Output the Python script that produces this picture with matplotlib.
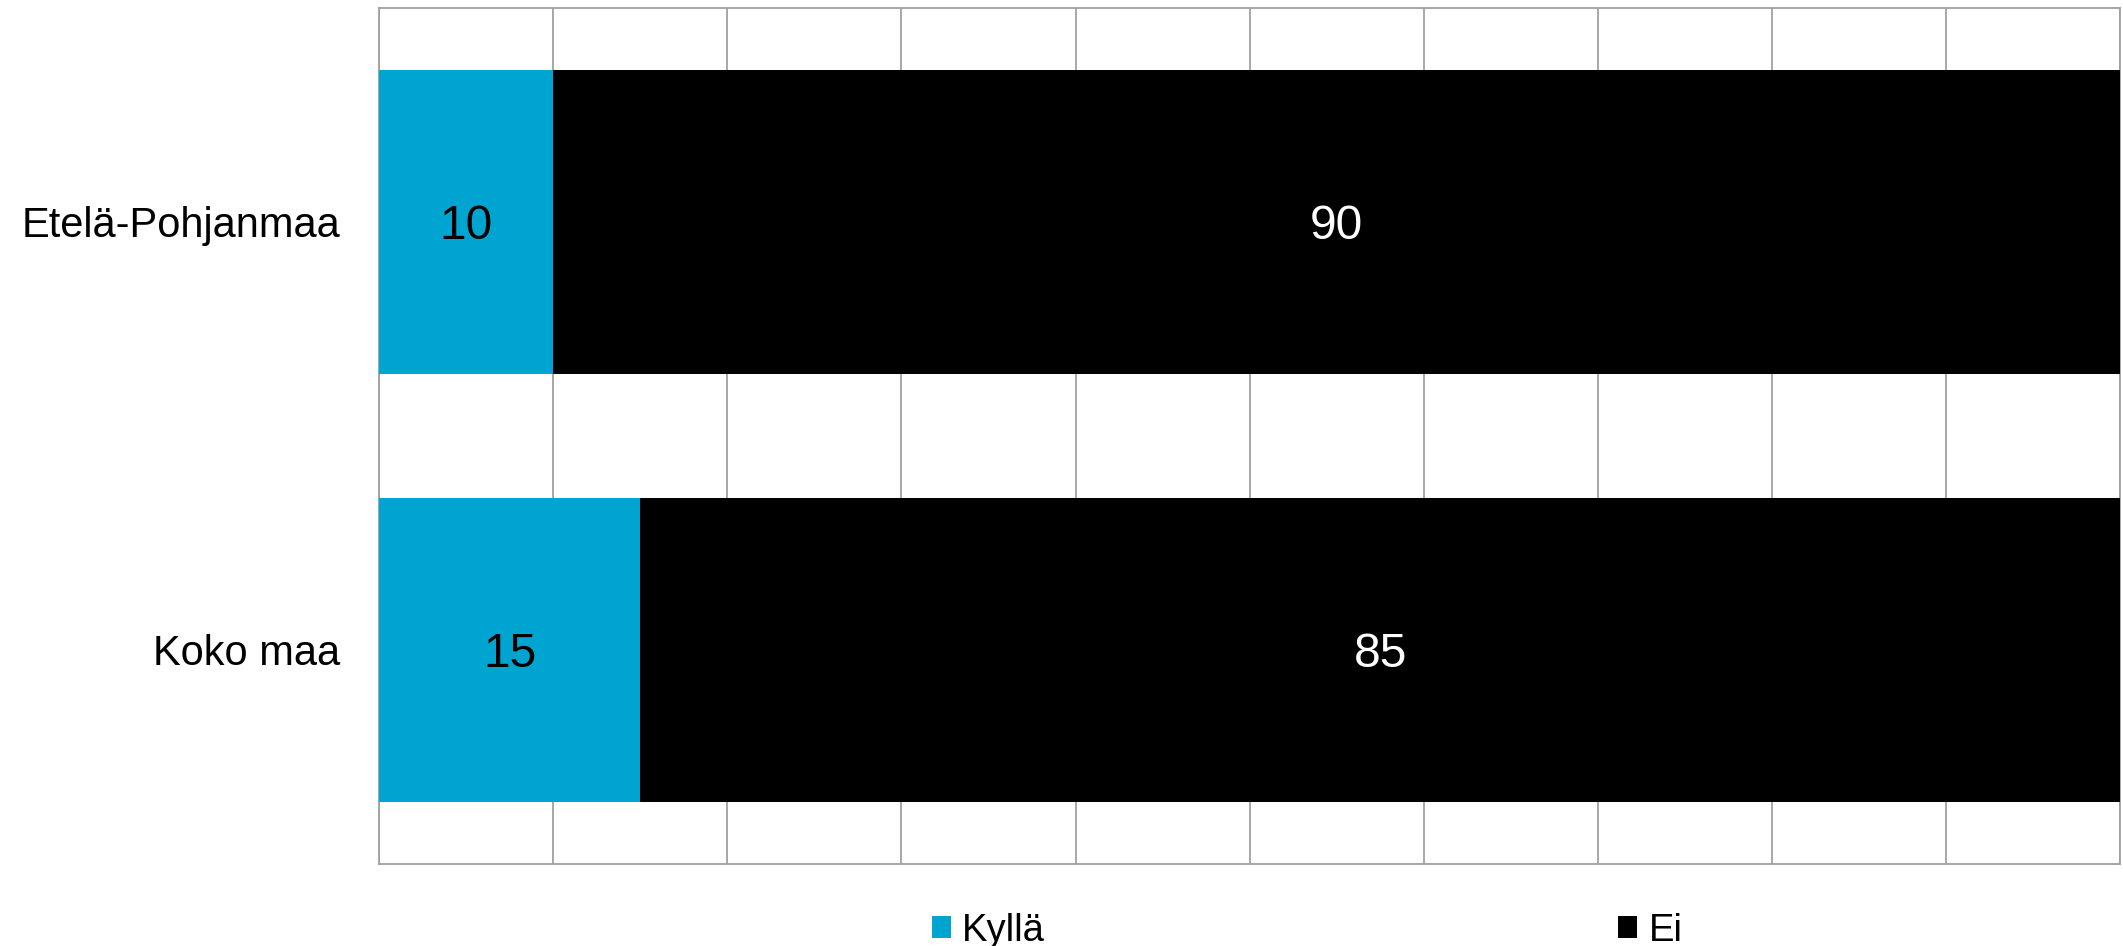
import numpy as np
from matplotlib import pyplot as plt
from matplotlib.patches import Patch

plt.rcParams['font.family'] = ['Liberation Sans', 'DejaVu Sans']

categories = ['Etelä-Pohjanmaa', 'Koko maa']
kylla = [10, 15]
ei = [90, 85]
series_names = ['Kyllä', 'Ei']
colors = ['#00A4D1', '#000000']
label_colors = ['black', 'white']

fig = plt.figure(figsize=(21.23, 9.46), dpi=100)
ax = fig.add_axes([0.1786, 0.0867, 0.8200, 0.9050])

y = np.arange(len(categories))
left = np.zeros(len(categories))
for vals, c, lc in zip([kylla, ei], colors, label_colors):
    bars = ax.barh(y, vals, left=left, height=0.71, color=c, zorder=3)
    for b, v in zip(bars, vals):
        ax.text(b.get_x() + b.get_width() / 2, b.get_y() + b.get_height() / 2,
                str(v), ha='center', va='center_baseline', color=lc, fontsize=34.5, zorder=4)
    left = left + np.array(vals)

ax.set_xlim(0, 100)
ax.set_ylim(1.5, -0.5)
ax.set_xticks(np.arange(0, 101, 10))
ax.set_xticklabels([])
ax.tick_params(axis='x', length=0)
ax.tick_params(axis='y', length=0, pad=28, labelsize=30)
ax.set_yticks(y)
ax.set_yticklabels(categories)
ax.grid(axis='x', color='#A0A0A0', linewidth=1.3, zorder=0)
for s in ax.spines.values():
    s.set_color('#A0A0A0')
    s.set_linewidth(1.3)

handles = [Patch(facecolor=c, edgecolor='none') for c in colors]
fig.legend(handles, series_names, loc='center', bbox_to_anchor=(0.6157, 0.016),
           ncol=2, frameon=False, fontsize=27.5, columnspacing=15.0,
           handlelength=0.5, handleheight=0.5, handletextpad=0.3)

fig.savefig('out.png', dpi=100)
